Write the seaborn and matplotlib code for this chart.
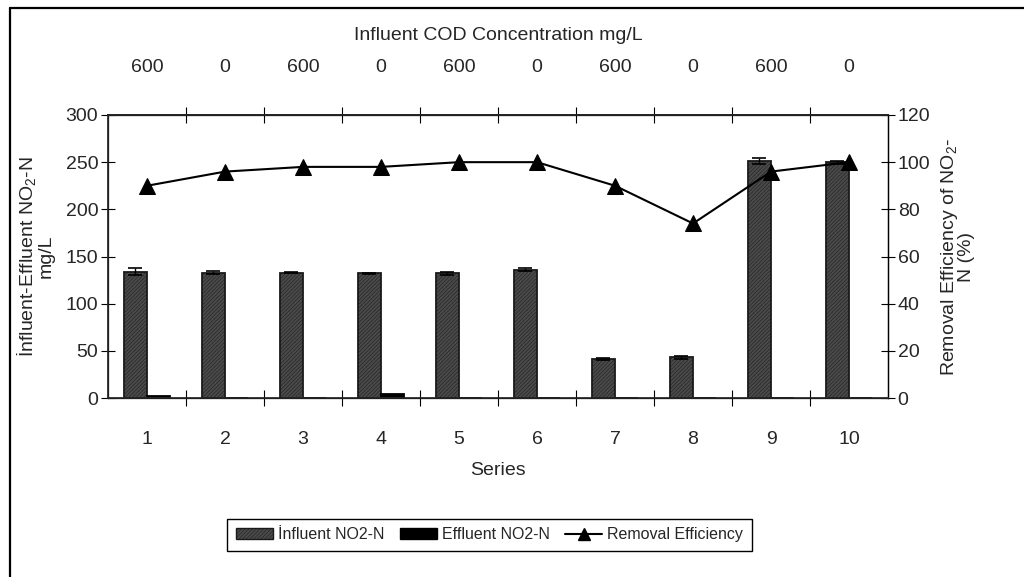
import numpy as np
import pandas as pd
import seaborn as sns
import matplotlib
matplotlib.use("Agg")
import matplotlib.pyplot as plt
from matplotlib import font_manager
from matplotlib.patches import Patch
from matplotlib.lines import Line2D

# ---- data ----
series = ["1", "2", "3", "4", "5", "6", "7", "8", "9", "10"]
cod_conc = ["600", "0", "600", "0", "600", "0", "600", "0", "600", "0"]
influent = [134, 133, 133, 132, 132, 136, 41, 43, 251, 250]
influent_err = [4, 2, 1, 1, 1.5, 1.5, 1, 1.5, 3, 1.5]
effluent = [2, 0, 0, 4, 0, 0, 0, 0, 0, 0]
efficiency = [90, 96, 98, 98, 100, 100, 90, 74, 96, 100]

sns.set_theme(style="white")
names = {f.name for f in font_manager.fontManager.ttflist}
fam = "Liberation Sans Narrow" if "Liberation Sans Narrow" in names else "Liberation Sans"
plt.rcParams["font.family"] = [fam, "DejaVu Sans"]
plt.rcParams["mathtext.fontset"] = "custom"
plt.rcParams["mathtext.rm"] = fam
plt.rcParams["hatch.linewidth"] = 0.35

df = pd.DataFrame({
    "Series": series * 2,
    "value": influent + effluent,
    "kind": ["İnfluent NO2-N"] * len(series) + ["Effluent NO2-N"] * len(series),
})

bar_face = "#4a4a4a"

fig = plt.figure(figsize=(10.24, 5.77), dpi=100)
ax = fig.add_axes([0.1055, 0.3102, 0.7617, 0.4905])

sns.barplot(data=df, x="Series", y="value", hue="kind", order=series,
            hue_order=["İnfluent NO2-N", "Effluent NO2-N"],
            palette={"İnfluent NO2-N": bar_face, "Effluent NO2-N": "black"},
            width=0.6, edgecolor="black", linewidth=1.3, errorbar=None,
            legend=False, ax=ax)
for p in ax.containers[0]:
    p.set_hatch("/////////")
    p.set_edgecolor("#1a1a1a")

xc = [p.get_x() + p.get_width() / 2 for p in ax.containers[0]]
ax.errorbar(xc, influent, yerr=influent_err, fmt="none", ecolor="black",
            elinewidth=1, capsize=5, capthick=1.2)

ax.set_xlim(-0.5, 9.5)
ax.set_ylim(0, 300)
ax.set_yticks(np.arange(0, 301, 50))
ax.set_xticks(np.arange(len(series)))
ax.set_xticklabels(series)
ax.set_xticks(np.arange(len(series) - 1) + 0.5, minor=True)
ax.tick_params(axis="x", which="major", length=0, pad=24, labelsize=14)
ax.tick_params(axis="x", which="minor", bottom=True, top=True,
               direction="inout", length=12, width=0.8, color="black")
ax.tick_params(axis="y", which="major", left=True, direction="inout",
               length=10, width=0.8, color="black", labelsize=14, pad=2)
ax.set_xlabel("Series", fontsize=14, labelpad=10)
ax.set_ylabel("İnfluent-Effluent NO$_2$-N\nmg/L", fontsize=14, linespacing=0.9)
ax.yaxis.set_label_coords(-0.068, 0.5)
for s in ax.spines.values():
    s.set_color("black")
    s.set_linewidth(0.9)

ax2 = ax.twinx()
sns.lineplot(x=np.arange(len(series)), y=efficiency, ax=ax2, color="black",
             marker="^", markersize=11, linewidth=1.5, markeredgecolor="black")
ax2.set_ylim(0, 120)
ax2.set_yticks(np.arange(0, 121, 20))
ax2.tick_params(axis="y", right=True, direction="inout", length=10,
                width=0.8, color="black", labelsize=14, pad=2)
ax2.set_ylabel("Removal Efficiency of NO$_2$-\nN (%)", fontsize=14,
               linespacing=0.9)
ax2.yaxis.set_label_coords(1.065, 0.5)
ax2.spines["right"].set_color("black")
ax2.spines["right"].set_linewidth(0.9)

ax3 = ax.secondary_xaxis("top")
ax3.set_xticks(np.arange(len(series)))
ax3.set_xticklabels(cod_conc)
ax3.tick_params(axis="x", length=0, pad=28, labelsize=14)
ax3.set_xlabel("Influent COD Concentration mg/L", fontsize=14, labelpad=14)

handles = [
    Patch(facecolor=bar_face, edgecolor="#1a1a1a", hatch="/////////",
          label="İnfluent NO2-N"),
    Patch(facecolor="black", edgecolor="black", label="Effluent NO2-N"),
    Line2D([0], [0], color="black", marker="^", markersize=9,
           linewidth=1.5, label="Removal Efficiency"),
]
fig.legend(handles=handles, loc="center", bbox_to_anchor=(0.478, 0.073),
           ncol=3, frameon=True, fancybox=False, edgecolor="black",
           framealpha=1, fontsize=11.5, handlelength=2.3, columnspacing=1.0,
           handletextpad=0.3, borderpad=0.55)

# figure border (left and top)
fig.add_artist(Line2D([0.0098, 0.0098], [0, 0.986], transform=fig.transFigure,
                      color="black", linewidth=1.6))
fig.add_artist(Line2D([0.0098, 1.0], [0.986, 0.986], transform=fig.transFigure,
                      color="black", linewidth=1.6))

fig.savefig("out.png", dpi=100)
